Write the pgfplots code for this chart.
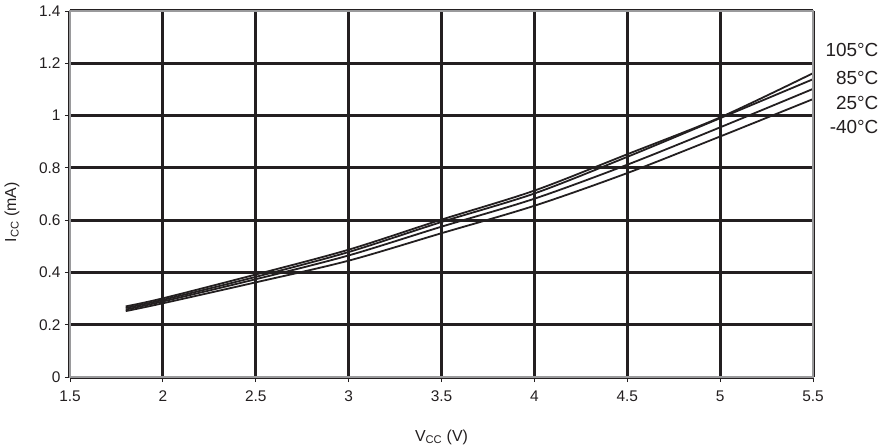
\documentclass[border=0pt]{standalone}
\usepackage{pgfplots}
\pgfplotsset{compat=1.18}
\usepackage{fontspec}
\setmainfont{Liberation Sans}
\usetikzlibrary{calc}
\definecolor{framegray}{HTML}{9A9A9C}
\definecolor{ink}{HTML}{231F20}

\begin{document}
\begin{tikzpicture}
\begin{axis}[
  name=ax, scale only axis, width=743bp, height=366bp,
  xmin=1.5, xmax=5.5, ymin=0, ymax=1.4,
  xtick={1.5,2,2.5,3,3.5,4,4.5,5,5.5},
  ytick={0,0.2,0.4,0.6,0.8,1,1.2,1.4},
  grid=major, grid style={line width=3bp, draw=ink},
  axis line style={line width=2bp, draw=framegray},
  tick pos=left, tick align=outside, major tick length=5bp,
  tick style={line width=0.9bp, draw=ink},
  /pgf/number format/assume math mode=true,
  tick label style={font=\fontsize{15.5}{18}\selectfont, text=ink},
  xticklabel style={yshift=-5bp},
  yticklabel style={xshift=-1bp},
  xlabel={V\textsubscript{CC} (V)},
  ylabel={I\textsubscript{CC} (mA)},
  label style={font=\fontsize{16}{19}\selectfont, text=ink},
  xlabel style={at={(rel axis cs:0.5,-0.164)}, anchor=center},
  ylabel style={at={(rel axis cs:-0.078,0.45)}, anchor=center},
  clip=false,
]
% 105 C
\addplot[ink, line width=1.8bp, smooth] coordinates {
(1.8,0.270) (2,0.301) (2.5,0.392) (3,0.487) (3.5,0.602) (4,0.713) (4.5,0.852) (5,0.993) (5.5,1.162) };
% 85 C
\addplot[ink, line width=1.8bp, smooth] coordinates {
(1.8,0.264) (2,0.295) (2.5,0.383) (3,0.478) (3.5,0.593) (4,0.702) (4.5,0.842) (5,0.990) (5.5,1.139) };
% 25 C
\addplot[ink, line width=1.8bp, smooth] coordinates {
(1.8,0.258) (2,0.289) (2.5,0.374) (3,0.465) (3.5,0.575) (4,0.682) (4.5,0.812) (5,0.955) (5.5,1.102) };
% -40 C
\addplot[ink, line width=1.8bp, smooth] coordinates {
(1.8,0.252) (2,0.282) (2.5,0.362) (3,0.445) (3.5,0.550) (4,0.655) (4.5,0.780) (5,0.920) (5.5,1.063) };
\draw[framegray, line width=2bp] (rel axis cs:0,0) rectangle (rel axis cs:1,1);
\node[anchor=east, text=ink, font=\fontsize{19}{22}\selectfont] at (axis cs:5.871,1.251) {105°C};
\node[anchor=east, text=ink, font=\fontsize{19}{22}\selectfont] at (axis cs:5.871,1.144) {85°C};
\node[anchor=east, text=ink, font=\fontsize{19}{22}\selectfont] at (axis cs:5.871,1.048) {25°C};
\node[anchor=east, text=ink, font=\fontsize{19}{22}\selectfont] at (axis cs:5.871,0.956) {-40°C};
\end{axis}
\pgfresetboundingbox
\path ($(ax.south west)+(-70bp,-68bp)$) rectangle ($(ax.north east)+(72bp,11bp)$);
\end{tikzpicture}
\end{document}
